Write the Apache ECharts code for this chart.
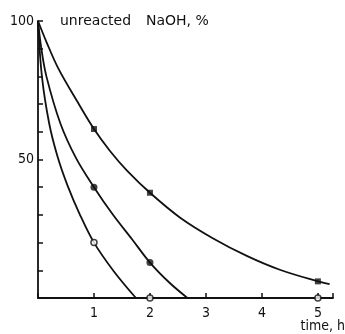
<!DOCTYPE html>
<html>
<head>
<meta charset="utf-8">
<script src="https://cdn.jsdelivr.net/npm/echarts@6/dist/echarts.min.js"></script>
<style>
  html, body { margin: 0; padding: 0; background: #fff; }
  #chart { width: 345px; height: 334px; }
</style>
</head>
<body>
<div id="chart"></div>
<script>
// curves, [time h, unreacted NaOH %]
const squareCurve = [[0, 100], [0.15, 92.5], [0.36, 83], [0.7, 71], [1, 61], [1.29, 53], [1.59, 46], [2, 38], [2.54, 29], [3.13, 21.5], [3.73, 15.2], [4.32, 10.2], [5, 6], [5.21, 5]];
const dotCurve = [[0, 100], [0.06, 90], [0.15, 80], [0.4, 63], [0.68, 50.5], [1, 40], [1.33, 30.3], [1.68, 21.2], [2, 12.8], [2.35, 5.5], [2.67, 0]];
const ringCurve = [[0, 100], [0.07, 80], [0.2, 63], [0.35, 51], [0.53, 40.5], [0.74, 30.5], [1, 20], [1.36, 9.5], [1.75, 0]];

// measured points
const squarePoints = [[1, 61], [2, 38], [5, 6]];
const dotPoints = [[1, 40], [2, 12.8]];
const ringPoints = [[1, 20], [2, 0], [5, 0]];

const xLabels = [1, 2, 3, 4, 5];
const yLabels = [50, 100];

const chart = echarts.init(document.getElementById("chart"));

const curve = (data) => ({
  type: "line",
  data: data,
  smooth: 0.35,
  showSymbol: false,
  lineStyle: { color: "#111", width: 1.8 },
  z: 2,
});

const labelFont = { color: "#111", fontFamily: "DejaVu Sans Condensed", fontSize: 14 };

chart.setOption({
  animation: false,
  grid: { left: 38, right: 12, top: 21, bottom: 36 },
  xAxis: {
    type: "value",
    min: 0,
    max: 5.27,
    interval: 1,
    axisLine: { lineStyle: { color: "#111", width: 1.8 } },
    axisTick: { inside: true, length: 5, lineStyle: { color: "#111", width: 1.5 } },
    axisLabel: {
      ...labelFont,
      margin: 8,
      formatter: (v) => (xLabels.includes(v) ? String(v) : ""),
    },
    splitLine: { show: false },
  },
  yAxis: {
    type: "value",
    min: 0,
    max: 100,
    interval: 10,
    axisLine: { show: true, lineStyle: { color: "#111", width: 1.8 } },
    axisTick: { show: true, inside: true, length: 5, lineStyle: { color: "#111", width: 1.5 } },
    axisLabel: {
      ...labelFont,
      margin: 4,
      formatter: (v) => (yLabels.includes(v) ? String(v) : ""),
    },
    splitLine: { show: false },
  },
  graphic: [
    {
      type: "text",
      left: 60,
      top: 14,
      style: { text: "unreacted", fill: "#111", font: "14px DejaVu Sans" },
    },
    {
      type: "text",
      left: 146,
      top: 14,
      style: { text: "NaOH, %", fill: "#111", font: "14px DejaVu Sans" },
    },
    {
      type: "text",
      right: 0,
      top: 319,
      style: { text: "time, h", fill: "#111", font: "14px DejaVu Sans Condensed" },
    },
  ],
  series: [
    curve(squareCurve),
    curve(dotCurve),
    curve(ringCurve),
    {
      type: "scatter",
      data: squarePoints,
      symbol: "rect",
      symbolSize: 6,
      itemStyle: { color: "#111" },
      z: 3,
    },
    {
      type: "scatter",
      data: dotPoints,
      symbol: "circle",
      symbolSize: 7,
      itemStyle: { color: "#111" },
      z: 3,
    },
    {
      type: "scatter",
      data: ringPoints,
      symbol: "circle",
      symbolSize: 6,
      itemStyle: { color: "#fff", borderColor: "#111", borderWidth: 1.5 },
      z: 3,
    },
  ],
});
</script>
</body>
</html>
